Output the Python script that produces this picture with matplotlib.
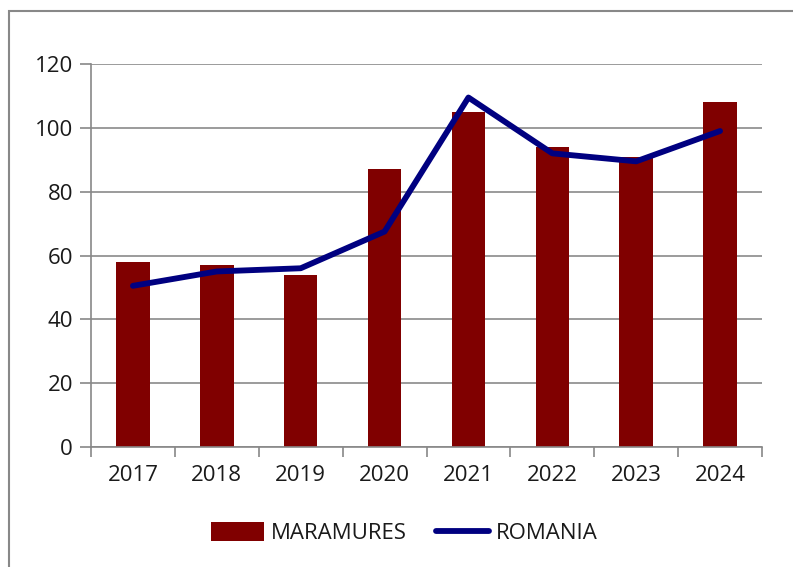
import matplotlib.pyplot as plt
from matplotlib.patches import Rectangle

# date
years = ['2017', '2018', '2019', '2020', '2021', '2022', '2023', '2024']
maramures = [58, 57, 54, 87, 105, 94, 91, 108]
romania = [50.5, 55, 56, 67.5, 109.5, 92, 89.5, 99]

plt.rcParams['font.family'] = ['Open Sans', 'DejaVu Sans']

fig = plt.figure(figsize=(7.93, 5.67), dpi=100)
ax = fig.add_axes([91 / 793, 1 - 447 / 567, (762 - 91) / 793, (447 - 64) / 567])

x = range(len(years))
bars = ax.bar(x, maramures, width=0.4, color='#800000', label='MARAMURES', zorder=2)
line, = ax.plot(x, romania, color='#000080', lw=4.2, solid_capstyle='round',
                solid_joinstyle='round', label='ROMANIA', zorder=3)

ax.set_xlim(-0.5, len(years) - 0.5)
ax.set_ylim(0, 120)
ax.set_yticks(range(0, 121, 20))
ax.set_xticks(x)
ax.set_xticklabels(years)
ax.set_xticks([i - 0.5 for i in range(len(years) + 1)], minor=True)
ax.tick_params(axis='x', which='major', length=0, pad=13, labelsize=16, colors='#1a1a1a')
ax.tick_params(axis='x', which='minor', length=7, width=1.2, color='#888888')
ax.tick_params(axis='y', length=8, width=1.2, color='#888888', labelsize=16,
               labelcolor='#1a1a1a', pad=5)

ax.grid(axis='y', color='#8a8a8a', lw=1.2, zorder=0)
for s in ['top', 'right']:
    ax.spines[s].set_visible(False)
for s in ['left', 'bottom']:
    ax.spines[s].set_color('#888888')
    ax.spines[s].set_linewidth(1.2)

leg = fig.legend([bars, line], ['MARAMURES', 'ROMANIA'], loc='center',
                 bbox_to_anchor=(0.51, 1 - 533 / 567), ncol=2, frameon=False,
                 fontsize=16, handlelength=2.4, handleheight=0.9, columnspacing=1.3,
                 handletextpad=0.3)
for t in leg.get_texts():
    t.set_color('#1a1a1a')

# chenarul exterior
fig.patches.append(Rectangle((9 / 793, -0.1), 1.0, 1 - 11 / 567 + 0.1, transform=fig.transFigure,
                             fill=False, edgecolor='#888888', lw=1.5))

fig.savefig('out.png', dpi=100)
